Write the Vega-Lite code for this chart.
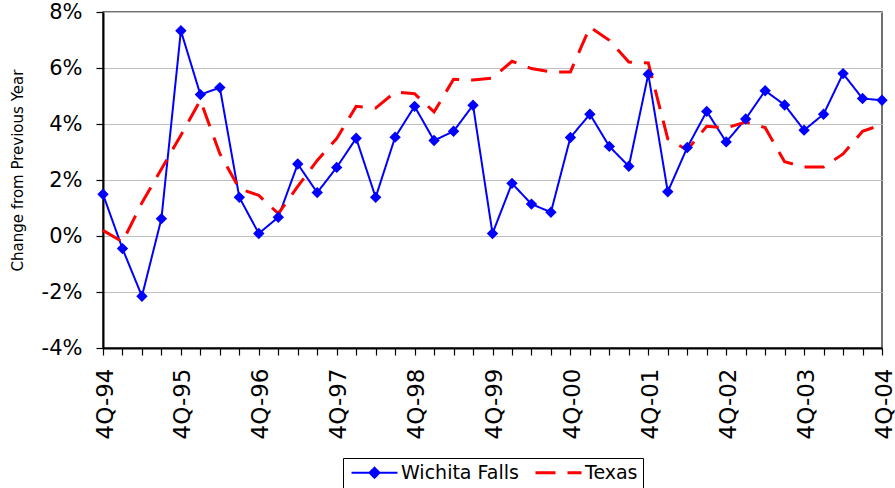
{
  "$schema": "https://vega.github.io/schema/vega-lite/v6.json",
  "width": 779,
  "height": 336,
  "autosize": "none",
  "padding": {"left": 103, "top": 12, "right": 13, "bottom": 140},
  "background": "white",
  "config": {
    "font": "DejaVu Sans",
    "view": {"stroke": "#404040", "strokeWidth": 1.5}
  },
  "data": {"values": [
    {"q": "4Q-94", "series": "Wichita Falls", "v": 1.49},
    {"q": "1Q-95", "series": "Wichita Falls", "v": -0.45},
    {"q": "2Q-95", "series": "Wichita Falls", "v": -2.15},
    {"q": "3Q-95", "series": "Wichita Falls", "v": 0.62},
    {"q": "4Q-95", "series": "Wichita Falls", "v": 7.33},
    {"q": "1Q-96", "series": "Wichita Falls", "v": 5.05},
    {"q": "2Q-96", "series": "Wichita Falls", "v": 5.3},
    {"q": "3Q-96", "series": "Wichita Falls", "v": 1.38},
    {"q": "4Q-96", "series": "Wichita Falls", "v": 0.09},
    {"q": "1Q-97", "series": "Wichita Falls", "v": 0.67},
    {"q": "2Q-97", "series": "Wichita Falls", "v": 2.57},
    {"q": "3Q-97", "series": "Wichita Falls", "v": 1.55},
    {"q": "4Q-97", "series": "Wichita Falls", "v": 2.45},
    {"q": "1Q-98", "series": "Wichita Falls", "v": 3.49},
    {"q": "2Q-98", "series": "Wichita Falls", "v": 1.38},
    {"q": "3Q-98", "series": "Wichita Falls", "v": 3.53},
    {"q": "4Q-98", "series": "Wichita Falls", "v": 4.63},
    {"q": "1Q-99", "series": "Wichita Falls", "v": 3.41},
    {"q": "2Q-99", "series": "Wichita Falls", "v": 3.74},
    {"q": "3Q-99", "series": "Wichita Falls", "v": 4.67},
    {"q": "4Q-99", "series": "Wichita Falls", "v": 0.09},
    {"q": "1Q-00", "series": "Wichita Falls", "v": 1.88},
    {"q": "2Q-00", "series": "Wichita Falls", "v": 1.14},
    {"q": "3Q-00", "series": "Wichita Falls", "v": 0.85},
    {"q": "4Q-00", "series": "Wichita Falls", "v": 3.52},
    {"q": "1Q-01", "series": "Wichita Falls", "v": 4.35},
    {"q": "2Q-01", "series": "Wichita Falls", "v": 3.2},
    {"q": "3Q-01", "series": "Wichita Falls", "v": 2.49},
    {"q": "4Q-01", "series": "Wichita Falls", "v": 5.78},
    {"q": "1Q-02", "series": "Wichita Falls", "v": 1.58},
    {"q": "2Q-02", "series": "Wichita Falls", "v": 3.16},
    {"q": "3Q-02", "series": "Wichita Falls", "v": 4.45},
    {"q": "4Q-02", "series": "Wichita Falls", "v": 3.36},
    {"q": "1Q-03", "series": "Wichita Falls", "v": 4.18},
    {"q": "2Q-03", "series": "Wichita Falls", "v": 5.19},
    {"q": "3Q-03", "series": "Wichita Falls", "v": 4.68},
    {"q": "4Q-03", "series": "Wichita Falls", "v": 3.78},
    {"q": "1Q-04", "series": "Wichita Falls", "v": 4.35},
    {"q": "2Q-04", "series": "Wichita Falls", "v": 5.8},
    {"q": "3Q-04", "series": "Wichita Falls", "v": 4.91},
    {"q": "4Q-04", "series": "Wichita Falls", "v": 4.85},
    {"q": "4Q-94", "series": "Texas", "v": 0.2},
    {"q": "1Q-95", "series": "Texas", "v": -0.21},
    {"q": "2Q-95", "series": "Texas", "v": 1.19},
    {"q": "3Q-95", "series": "Texas", "v": 2.39},
    {"q": "4Q-95", "series": "Texas", "v": 3.6},
    {"q": "1Q-96", "series": "Texas", "v": 4.85},
    {"q": "2Q-96", "series": "Texas", "v": 2.94},
    {"q": "3Q-96", "series": "Texas", "v": 1.69},
    {"q": "4Q-96", "series": "Texas", "v": 1.45},
    {"q": "1Q-97", "series": "Texas", "v": 0.8},
    {"q": "2Q-97", "series": "Texas", "v": 1.77},
    {"q": "3Q-97", "series": "Texas", "v": 2.7},
    {"q": "4Q-97", "series": "Texas", "v": 3.48},
    {"q": "1Q-98", "series": "Texas", "v": 4.63},
    {"q": "2Q-98", "series": "Texas", "v": 4.57},
    {"q": "3Q-98", "series": "Texas", "v": 5.14},
    {"q": "4Q-98", "series": "Texas", "v": 5.08},
    {"q": "1Q-99", "series": "Texas", "v": 4.43},
    {"q": "2Q-99", "series": "Texas", "v": 5.6},
    {"q": "3Q-99", "series": "Texas", "v": 5.57},
    {"q": "4Q-99", "series": "Texas", "v": 5.64},
    {"q": "1Q-00", "series": "Texas", "v": 6.24},
    {"q": "2Q-00", "series": "Texas", "v": 5.98},
    {"q": "3Q-00", "series": "Texas", "v": 5.86},
    {"q": "4Q-00", "series": "Texas", "v": 5.86},
    {"q": "1Q-01", "series": "Texas", "v": 7.46},
    {"q": "2Q-01", "series": "Texas", "v": 6.99},
    {"q": "3Q-01", "series": "Texas", "v": 6.21},
    {"q": "4Q-01", "series": "Texas", "v": 6.18},
    {"q": "1Q-02", "series": "Texas", "v": 3.47},
    {"q": "2Q-02", "series": "Texas", "v": 3.07},
    {"q": "3Q-02", "series": "Texas", "v": 3.92},
    {"q": "4Q-02", "series": "Texas", "v": 3.86},
    {"q": "1Q-03", "series": "Texas", "v": 4.07},
    {"q": "2Q-03", "series": "Texas", "v": 3.87},
    {"q": "3Q-03", "series": "Texas", "v": 2.65},
    {"q": "4Q-03", "series": "Texas", "v": 2.46},
    {"q": "1Q-04", "series": "Texas", "v": 2.46},
    {"q": "2Q-04", "series": "Texas", "v": 2.93},
    {"q": "3Q-04", "series": "Texas", "v": 3.74},
    {"q": "4Q-04", "series": "Texas", "v": 3.98}
  ]},
  "layer": [
    {
      "mark": {"type": "line", "strokeCap": "butt"},
      "encoding": {
        "x": {
          "field": "q", "type": "ordinal", "sort": null,
          "scale": {"type": "point", "padding": 0},
          "axis": {
            "title": null, "labelAngle": -90, "labelFontSize": 23, "labelColor": "black",
            "labelExpr": "indexof(datum.label, '4Q') === 0 ? datum.label : ''",
            "labelOverlap": false, "labelBound": false, "labelPadding": 13, "labelOffset": 2,
            "tickSize": 7, "tickColor": "black", "tickWidth": 1.2,
            "domainColor": "black", "domainWidth": 2, "grid": false
          }
        },
        "y": {
          "field": "v", "type": "quantitative",
          "scale": {"domain": [-4, 8], "nice": false, "zero": false},
          "axis": {
            "title": "Change from Previous Year", "titleFontSize": 15, "titleFontWeight": "normal",
            "titleColor": "black", "titlePadding": 16, "titleY": 158,
            "values": [-4, -2, 0, 2, 4, 6, 8], "labelExpr": "datum.value + '%'",
            "labelFontSize": 21, "labelColor": "black", "labelPadding": 14,
            "tickSize": 7, "tickColor": "black", "tickWidth": 1.2,
            "domainColor": "black", "domainWidth": 2,
            "grid": true, "gridColor": "#c0c0c0", "gridWidth": 1
          }
        },
        "color": {
          "field": "series", "type": "nominal",
          "scale": {"domain": ["Wichita Falls", "Texas"], "range": ["#0000ff", "#ff0000"]},
          "legend": {
            "orient": "none", "legendX": 240, "legendY": 446, "direction": "horizontal", "title": null,
            "strokeColor": "black", "padding": 5, "labelFontSize": 19, "labelColor": "black",
            "symbolSize": 100, "symbolType": "M-4.6,0L4.6,0", "symbolStrokeWidth": 2.5,
            "symbolOffset": 17, "columnPadding": 10, "labelOffset": 17,
            "encode": {"symbols": {"update": {
              "shape": {"signal": "datum.value === 'Wichita Falls' ? 'M-4.6,0L4.6,0M0,-1L1,0L0,1L-1,0Z' : 'M-4.6,0L4.6,0'"},
              "fill": {"signal": "datum.value === 'Wichita Falls' ? '#0000ff' : 'transparent'"}
            }}}
          }
        },
        "strokeDash": {
          "field": "series", "type": "nominal",
          "scale": {"domain": ["Wichita Falls", "Texas"], "range": [[1, 0], [20, 12]]},
          "legend": {
            "orient": "none", "legendX": 240, "legendY": 446, "direction": "horizontal", "title": null,
            "strokeColor": "black", "padding": 5, "labelFontSize": 19, "labelColor": "black",
            "symbolSize": 100, "symbolType": "M-4.6,0L4.6,0", "symbolStrokeWidth": 2.5,
            "symbolOffset": 17, "columnPadding": 10, "labelOffset": 17,
            "encode": {"symbols": {"update": {
              "shape": {"signal": "datum.value === 'Wichita Falls' ? 'M-4.6,0L4.6,0M0,-1L1,0L0,1L-1,0Z' : 'M-4.6,0L4.6,0'"},
              "fill": {"signal": "datum.value === 'Wichita Falls' ? '#0000ff' : 'transparent'"}
            }}}
          }
        },
        "strokeWidth": {
          "field": "series", "type": "nominal",
          "scale": {"domain": ["Wichita Falls", "Texas"], "range": [2, 3]},
          "legend": null
        }
      }
    },
    {
      "transform": [{"filter": "datum.series === 'Wichita Falls'"}],
      "mark": {"type": "point", "shape": "diamond", "filled": true, "size": 130, "color": "#0000ff", "opacity": 1},
      "encoding": {
        "x": {"field": "q", "type": "ordinal", "sort": null},
        "y": {"field": "v", "type": "quantitative"}
      }
    }
  ]
}
